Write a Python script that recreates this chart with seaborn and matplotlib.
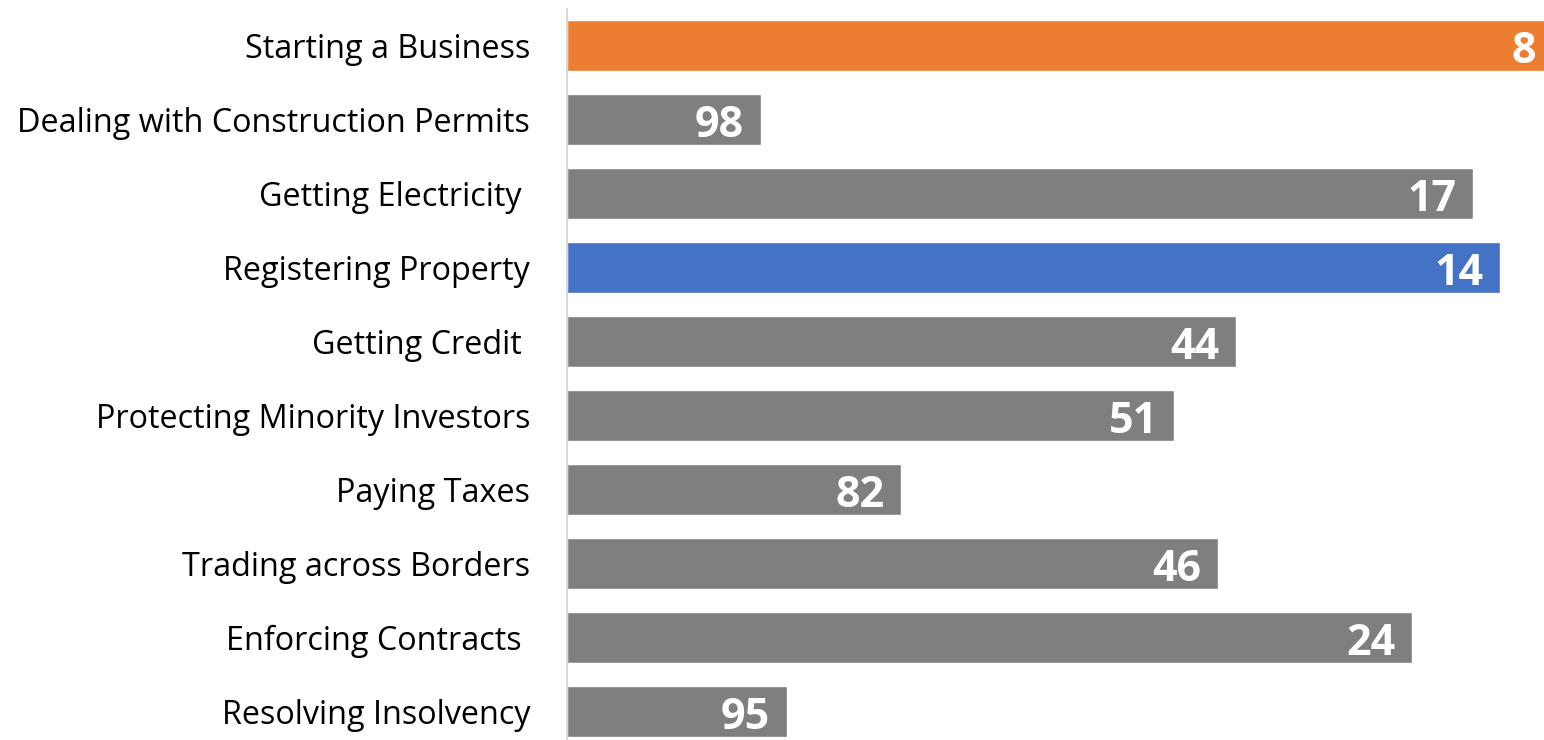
import matplotlib
matplotlib.use("Agg")
import matplotlib.pyplot as plt
import seaborn as sns
import pandas as pd

# Doing Business indicators and the country's rank on each
indicators = [
    "Starting a Business",
    "Dealing with Construction Permits",
    "Getting Electricity ",
    "Registering Property",
    "Getting Credit ",
    "Protecting Minority Investors",
    "Paying Taxes",
    "Trading across Borders",
    "Enforcing Contracts ",
    "Resolving Insolvency",
]
ranks = [8, 98, 17, 14, 44, 51, 82, 46, 24, 95]
bar_colors = ["#ED7D31", "#7F7F7F", "#7F7F7F", "#4472C4", "#7F7F7F",
              "#7F7F7F", "#7F7F7F", "#7F7F7F", "#7F7F7F", "#7F7F7F"]

# A better rank (smaller number) gives a longer bar
RANK_BASE = 120
df = pd.DataFrame({"indicator": indicators, "rank": ranks})
df["score"] = RANK_BASE - df["rank"]

sns.set_theme(style="white")
plt.rcParams["font.family"] = ["Open Sans", "DejaVu Sans"]

W, H = 1544, 740
fig = plt.figure(figsize=(W / 100, H / 100), dpi=100)
ax = fig.add_axes([567 / W, -8.5 / H, (W - 567) / W, 1.0])

sns.barplot(data=df, y="indicator", x="score", hue="indicator",
            palette=bar_colors, legend=False, orient="h",
            width=0.69, saturation=1, ax=ax)

ax.set_xlim(0, (W - 567) / 8.8)
ax.set_xlabel("")
ax.set_ylabel("")
ax.set_xticks([])
ax.tick_params(axis="y", length=0, pad=26.5, labelsize=23.3, labelcolor="black")

for s in ["top", "right", "bottom"]:
    ax.spines[s].set_visible(False)
ax.spines["left"].set_color("#D9D9D9")
ax.spines["left"].set_linewidth(1.5)

# Rank labels sit just inside the end of each bar
for i, (score, rank) in enumerate(zip(df["score"], df["rank"])):
    ax.annotate(str(rank), xy=(score, i), xytext=(-12, -1),
                textcoords="offset points", ha="right", va="center_baseline",
                color="white", fontsize=31, fontweight="bold",
                annotation_clip=False)

fig.savefig("out.png", dpi=100)
